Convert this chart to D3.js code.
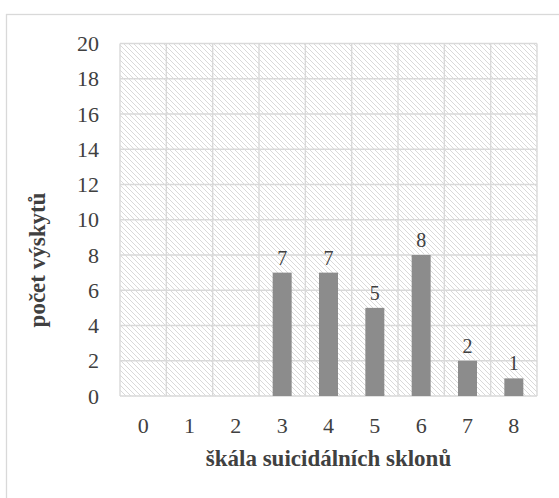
<!DOCTYPE html>
<html>
<head>
<meta charset="utf-8">
<script src="https://cdn.jsdelivr.net/npm/d3@7"></script>
<style>
  body { margin: 0; background: #fff; }
  .tick text, .label { font-family: "Liberation Serif", "Times New Roman", serif; fill: #404040; }
  .title { font-family: "Liberation Serif", "Times New Roman", serif; font-weight: bold; fill: #404040; }
</style>
</head>
<body>
<div id="chart"></div>
<script>
// data
var categories = [0, 1, 2, 3, 4, 5, 6, 7, 8];
var counts = [0, 0, 0, 7, 7, 5, 8, 2, 1];
var yTicks = [0, 2, 4, 6, 8, 10, 12, 14, 16, 18, 20];

var width = 559;
var height = 498;
var plot = { left: 120, top: 43.5, right: 537, bottom: 396 };

var svg = d3.select("#chart")
    .append("svg")
    .attr("width", width)
    .attr("height", height);

// hatched background pattern
var pattern = svg.append("defs")
    .append("pattern")
    .attr("id", "hatch")
    .attr("patternUnits", "userSpaceOnUse")
    .attr("width", 5)
    .attr("height", 5);
pattern.append("path")
    .attr("d", "M0,0 L5,5 M-1,4 L1,6 M4,-1 L6,1")
    .attr("stroke", "#d9d9d9")
    .attr("stroke-width", 1);

// outer chart border (runs off the right and bottom edges)
svg.append("rect")
    .attr("x", 6.5)
    .attr("y", 14.5)
    .attr("width", width)
    .attr("height", height)
    .attr("fill", "none")
    .attr("stroke", "#d9d9d9")
    .attr("stroke-width", 1.3);

// scales
var x = d3.scaleBand()
    .domain(categories)
    .range([plot.left, plot.right])
    .padding(0);

var y = d3.scaleLinear()
    .domain([0, 20])
    .range([plot.bottom, plot.top]);

// plot background
svg.append("rect")
    .attr("x", plot.left)
    .attr("y", plot.top)
    .attr("width", plot.right - plot.left)
    .attr("height", plot.bottom - plot.top)
    .attr("fill", "url(#hatch)");

// grid lines
svg.append("g")
    .selectAll("line")
    .data(yTicks)
    .enter()
    .append("line")
    .attr("x1", plot.left)
    .attr("x2", plot.right)
    .attr("y1", function (d) { return y(d); })
    .attr("y2", function (d) { return y(d); })
    .attr("stroke", "#d9d9d9")
    .attr("stroke-width", 1.4);

svg.append("g")
    .selectAll("line")
    .data(categories.concat(["end"]))
    .enter()
    .append("line")
    .attr("x1", function (d) { return d === "end" ? plot.right : x(d); })
    .attr("x2", function (d) { return d === "end" ? plot.right : x(d); })
    .attr("y1", plot.top)
    .attr("y2", plot.bottom)
    .attr("stroke", "#d9d9d9")
    .attr("stroke-width", 1.4);

// bars
var barW = x.bandwidth() * 0.41;
svg.append("g")
    .selectAll("rect")
    .data(counts)
    .enter()
    .append("rect")
    .attr("x", function (d, i) { return x(categories[i]) + (x.bandwidth() - barW) / 2; })
    .attr("y", function (d) { return y(d); })
    .attr("width", barW)
    .attr("height", function (d) { return y(0) - y(d); })
    .attr("fill", "#8c8c8c");

// data labels above the bars
var labelData = categories
    .map(function (c, i) { return { cat: c, value: counts[i] }; })
    .filter(function (d) { return d.value > 0; });

svg.append("g")
    .selectAll("text")
    .data(labelData)
    .enter()
    .append("text")
    .attr("class", "label")
    .attr("x", function (d) { return x(d.cat) + x.bandwidth() / 2; })
    .attr("y", function (d) { return y(d.value) - 8; })
    .attr("text-anchor", "middle")
    .style("font-size", "20px")
    .text(function (d) { return d.value; });

// axes
var yAxis = svg.append("g")
    .attr("transform", "translate(" + (plot.left - 21) + ",0)")
    .call(d3.axisLeft(y).tickValues(yTicks).tickSize(0).tickPadding(0));
yAxis.select(".domain").remove();
yAxis.selectAll("text").style("font-size", "22px");

var xAxis = svg.append("g")
    .attr("transform", "translate(0," + (plot.bottom + 21) + ")")
    .call(d3.axisBottom(x).tickSize(0).tickPadding(0));
xAxis.select(".domain").remove();
xAxis.selectAll("text").style("font-size", "22px");

// axis titles
svg.append("text")
    .attr("class", "title")
    .attr("x", (plot.left + plot.right) / 2)
    .attr("y", 466)
    .attr("text-anchor", "middle")
    .style("font-size", "23px")
    .text("škála suicidálních sklonů");

svg.append("text")
    .attr("class", "title")
    .attr("transform", "translate(45,260) rotate(-90)")
    .attr("text-anchor", "middle")
    .style("font-size", "23px")
    .text("počet výskytů");
</script>
</body>
</html>
